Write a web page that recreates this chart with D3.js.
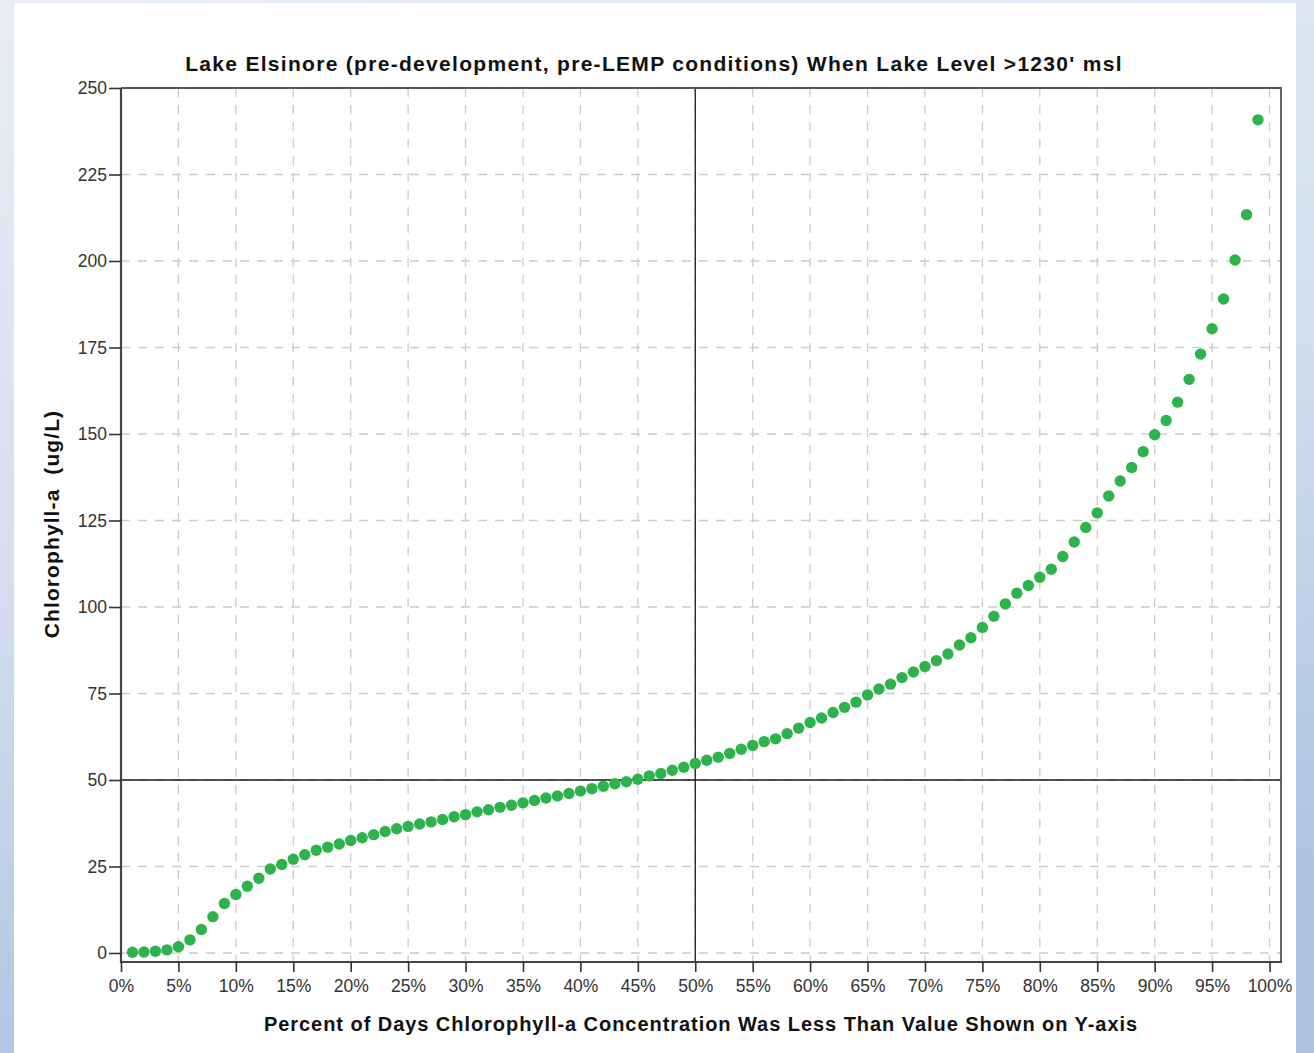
<!DOCTYPE html>
<html>
<head>
<meta charset="utf-8">
<script src="https://cdn.jsdelivr.net/npm/d3@7"></script>
<style>
  html, body { margin: 0; padding: 0; }
  body { width: 1314px; height: 1053px; overflow: hidden; }
  svg { display: block; }
</style>
</head>
<body>
<svg id="chart" width="1314" height="1053"></svg>
<script>
// ---------------- data ----------------
const titleText = "Lake Elsinore (pre-development, pre-LEMP conditions) When Lake Level >1230' msl";
const xTitle = "Percent of Days Chlorophyll-a Concentration Was Less Than Value Shown on Y-axis";
const yTitle = "Chlorophyll-a  (ug/L)";

const percentDays = [
  1, 2, 3, 4, 5, 6, 7, 8, 9, 10,
  11, 12, 13, 14, 15, 16, 17, 18, 19, 20,
  21, 22, 23, 24, 25, 26, 27, 28, 29, 30,
  31, 32, 33, 34, 35, 36, 37, 38, 39, 40,
  41, 42, 43, 44, 45, 46, 47, 48, 49, 50,
  51, 52, 53, 54, 55, 56, 57, 58, 59, 60,
  61, 62, 63, 64, 65, 66, 67, 68, 69, 70,
  71, 72, 73, 74, 75, 76, 77, 78, 79, 80,
  81, 82, 83, 84, 85, 86, 87, 88, 89, 90,
  91, 92, 93, 94, 95, 96, 97, 98, 99
];
const chlorophyll = [
  0.2, 0.3, 0.5, 0.9, 1.8, 3.8, 6.8, 10.5, 14.3, 16.9,
  19.3, 21.6, 24.3, 25.6, 27.1, 28.4, 29.7, 30.6, 31.5, 32.5,
  33.3, 34.2, 35.1, 35.9, 36.6, 37.3, 37.9, 38.6, 39.4, 40.0,
  40.8, 41.4, 42.1, 42.7, 43.4, 44.1, 44.8, 45.4, 46.1, 46.8,
  47.5, 48.2, 48.9, 49.5, 50.2, 51.2, 51.9, 52.8, 53.7, 54.8,
  55.7, 56.6, 57.7, 58.9, 60.0, 61.1, 61.9, 63.4, 65.0, 66.6,
  67.9, 69.5, 71.0, 72.5, 74.6, 76.3, 77.7, 79.6, 81.2, 82.8,
  84.5, 86.4, 89.0, 91.1, 94.1, 97.3, 100.9, 104.0, 106.2, 108.6,
  110.9, 114.6, 118.8, 123.0, 127.2, 132.1, 136.4, 140.3, 144.9, 149.8,
  153.9, 159.2, 165.8, 173.1, 180.4, 189.0, 200.3, 213.4, 240.8
];
const xTickValues = [0, 5, 10, 15, 20, 25, 30, 35, 40, 45, 50, 55, 60, 65, 70, 75, 80, 85, 90, 95, 100];
const yTickValues = [0, 25, 50, 75, 100, 125, 150, 175, 200, 225, 250];
const refX = [50];
const refY = [50];

// ---------------- layout ----------------
const svg = d3.select("#chart");
const W = 1314, H = 1053;
const plot = { left: 121, right: 1281, top: 88, bottom: 962 };

// background
const defs = svg.append("defs");
const grad = defs.append("linearGradient").attr("id", "bg").attr("x1", 0).attr("y1", 0).attr("x2", 0.25).attr("y2", 1);
grad.append("stop").attr("offset", "0%").attr("stop-color", "#e7eef7");
grad.append("stop").attr("offset", "55%").attr("stop-color", "#d1ddee");
grad.append("stop").attr("offset", "100%").attr("stop-color", "#adc4e2");
svg.append("rect").attr("width", W).attr("height", H).attr("fill", "url(#bg)");
svg.append("rect").attr("x", 14).attr("y", 3).attr("width", 1282).attr("height", H - 3).attr("fill", "#ffffff");

const x = d3.scaleLinear().domain([0, 101]).range([plot.left, plot.right]);
const y = d3.scaleLinear().domain([-2.6, 250]).range([plot.bottom, plot.top]);

// grid
const grid = svg.append("g").attr("stroke", "#cccccc").attr("stroke-width", 1.3).attr("stroke-dasharray", "9,8");
grid.selectAll("line.v").data(xTickValues.filter(d => d > 0)).join("line")
  .attr("class", "v")
  .attr("x1", d => x(d)).attr("x2", d => x(d))
  .attr("y1", y(250)).attr("y2", plot.bottom);
grid.selectAll("line.h").data(yTickValues.filter(d => d < 250)).join("line")
  .attr("class", "h")
  .attr("x1", plot.left).attr("x2", plot.right)
  .attr("y1", d => y(d)).attr("y2", d => y(d));

// reference lines
svg.append("g").selectAll("line").data(refX).join("line")
  .attr("x1", d => x(d)).attr("x2", d => x(d))
  .attr("y1", plot.top).attr("y2", plot.bottom)
  .attr("stroke", "#1a1a1a").attr("stroke-width", 1.3);
svg.append("g").selectAll("line").data(refY).join("line")
  .attr("x1", plot.left).attr("x2", plot.right)
  .attr("y1", d => y(d)).attr("y2", d => y(d))
  .attr("stroke", "#1a1a1a").attr("stroke-width", 1.3);

// frame (top & right)
svg.append("path")
  .attr("d", `M${plot.left},${plot.top}H${plot.right}V${plot.bottom}`)
  .attr("fill", "none").attr("stroke", "#555").attr("stroke-width", 1.8);

// points
const pts = percentDays.map((p, i) => ({ p, v: chlorophyll[i] }));
svg.append("g").selectAll("circle").data(pts).join("circle")
  .attr("cx", d => x(d.p)).attr("cy", d => y(d.v)).attr("r", 5.7)
  .attr("fill", "#2db34b");

// axes
const tickFont = "'Liberation Sans', Arial, sans-serif";
const yAxis = d3.axisLeft(y).tickValues(yTickValues).tickSize(12).tickPadding(2).tickFormat(d3.format("d"));
const gy = svg.append("g").attr("transform", `translate(${plot.left},0)`).call(yAxis);
const xAxis = d3.axisBottom(x).tickValues(xTickValues).tickSize(10).tickPadding(8).tickFormat(d => d + "%");
const gx = svg.append("g").attr("transform", `translate(0,${plot.bottom})`).call(xAxis);

[gy, gx].forEach(g => {
  g.select(".domain").attr("stroke", "#444").attr("stroke-width", 2.2);
  g.selectAll(".tick line").attr("stroke", "#333").attr("stroke-width", 1.6);
  g.selectAll(".tick text").attr("fill", "#333").style("font-family", tickFont).style("font-size", "17.5px");
});
gy.select(".domain").attr("d", `M0,${plot.top}V${plot.bottom + 1}`);
gx.select(".domain").attr("d", `M${plot.left - 1},0H${plot.right + 1}`);

// titles
const titleFont = "'Liberation Sans', Arial, sans-serif";
svg.append("text")
  .attr("x", 654).attr("y", 71)
  .attr("text-anchor", "middle")
  .style("font-family", titleFont).style("font-weight", "bold").style("font-size", "21px")
  .style("letter-spacing", "1.3px")
  .attr("fill", "#111")
  .text(titleText);
svg.append("text")
  .attr("x", 701).attr("y", 1031)
  .attr("text-anchor", "middle")
  .style("font-family", titleFont).style("font-weight", "bold").style("font-size", "20px")
  .style("letter-spacing", "0.95px")
  .attr("fill", "#111")
  .text(xTitle);
svg.append("text")
  .attr("transform", "translate(59,524) rotate(-90)")
  .attr("text-anchor", "middle")
  .style("font-family", titleFont).style("font-weight", "bold").style("font-size", "21px")
  .style("letter-spacing", "1.1px")
  .style("white-space", "pre")
  .attr("xml:space", "preserve")
  .attr("fill", "#111")
  .text(yTitle);
</script>
</body>
</html>
